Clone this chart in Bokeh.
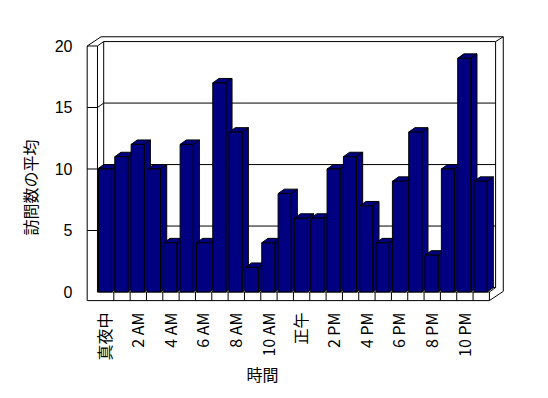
import math
from bokeh.plotting import figure
from bokeh.models import Range1d, FixedTicker, LinearAxis, Title
from bokeh.embed import file_html
from bokeh.resources import INLINE

# ---- data -------------------------------------------------------------
categories = ["真夜中", "1 AM", "2 AM", "3 AM", "4 AM", "5 AM", "6 AM", "7 AM",
              "8 AM", "9 AM", "10 AM", "11 AM", "正午", "1 PM", "2 PM", "3 PM",
              "4 PM", "5 PM", "6 PM", "7 PM", "8 PM", "9 PM", "10 PM", "11 PM"]
visits = [10, 11, 12, 10, 4, 12, 4, 17, 13, 2, 4, 8,
          6, 6, 10, 11, 7, 4, 9, 13, 3, 10, 19, 9]
y_ticks = [0, 5, 10, 15, 20]
x_title = "時間"
y_title = "訪問数の平均"

# ---- geometry (data units) -------------------------------------------
n = len(categories)
y_max = y_ticks[-1]
bar_l, bar_r = 0.06, 0.86      # bar front face within its slot
dep_x, dep_y = 0.38, 0.36      # depth of bars / inner walls
out_x, out_y = 0.85, 0.75      # outer wall depth
wall_w = 0.63                  # left wall thickness
floor_t = 0.70                 # floor thickness

NAVY = "#000080"
FONT = "Liberation Sans"
JFONT = "Noto Sans CJK JP"

x_start, x_end = -1.04, 25.17
y_start, y_end = -1.18, 21.26

p = figure(width=540, height=394, output_backend="svg", toolbar_location=None,
           x_range=Range1d(x_start, x_end), y_range=Range1d(y_start, y_end),
           x_axis_type=None, y_axis_type=None,
           min_border_left=80, min_border_right=32,
           min_border_top=30, min_border_bottom=88)
p.grid.visible = False
p.outline_line_color = None
p.background_fill_color = "white"
p.border_fill_color = "white"

# ---- walls and floor (frame drawing) ----------------------------------
w, ft = wall_w, floor_t
segs_x, segs_y = [], []
def seg(pts):
    segs_x.append([q[0] for q in pts])
    segs_y.append([q[1] for q in pts])

# left wall front face + floor front face
seg([(-w, -ft), (-w, y_max), (0, y_max), (0, 0)])
seg([(-w, -ft), (n, -ft), (n, 0)])
seg([(0, 0), (n, 0)])
# outer top edges
seg([(-w, y_max), (-w + out_x, y_max + out_y), (n + out_x, y_max + out_y),
     (n + out_x, -ft + out_y), (n, -ft)])
# inner wall
seg([(0, y_max), (dep_x, y_max + dep_y), (n + dep_x, y_max + dep_y),
     (n + out_x, y_max + out_y)])
seg([(dep_x, y_max + dep_y), (dep_x, dep_y), (n + dep_x, dep_y),
     (n + dep_x, y_max + dep_y)])
seg([(0, 0), (dep_x, dep_y)])
seg([(n, 0), (n + dep_x, dep_y)])
# gridlines (front tick, side diagonal, back wall line)
for L in y_ticks[1:-1]:
    seg([(-w, L), (0, L), (dep_x, L + dep_y), (n + dep_x, L + dep_y)])
# floor front dividers
for i in range(1, n):
    seg([(i, -ft), (i, 0)])

p.multi_line(xs=segs_x, ys=segs_y, line_color="black", line_width=1)

# ---- bars --------------------------------------------------------------
side_xs, side_ys, top_xs, top_ys = [], [], [], []
for i, v in enumerate(visits):
    l, r = i + bar_l, i + bar_r
    side_xs.append([r, r + dep_x, r + dep_x, r])
    side_ys.append([0, dep_y, v + dep_y, v])
    top_xs.append([l, r, r + dep_x, l + dep_x])
    top_ys.append([v, v, v + dep_y, v + dep_y])

p.patches(xs=side_xs, ys=side_ys, fill_color=NAVY, line_color="black", line_width=1)
p.patches(xs=top_xs, ys=top_ys, fill_color=NAVY, line_color="black", line_width=1)
p.quad(left=[i + bar_l for i in range(n)], right=[i + bar_r for i in range(n)],
       bottom=0, top=visits, fill_color=NAVY, line_color="black", line_width=1)

# ---- axes ---------------------------------------------------------------
yax = LinearAxis(ticker=FixedTicker(ticks=y_ticks))
yax.axis_line_color = None
yax.major_tick_line_color = None
yax.minor_tick_line_color = None
yax.major_tick_out = 0
yax.major_tick_in = 0
yax.major_label_standoff = 8
yax.major_label_text_font = FONT
yax.major_label_text_font_size = "16px"
yax.major_label_text_color = "black"
p.add_layout(yax, "left")

label_shift = 0.42
p.extra_x_ranges = {"labels": Range1d(x_start - label_shift, x_end - label_shift)}
shown = list(range(0, n, 2))
xax = LinearAxis(x_range_name="labels", ticker=FixedTicker(ticks=shown),
                 major_label_overrides={i: categories[i] for i in shown},
                 major_label_orientation=math.pi / 2)
xax.axis_line_color = None
xax.major_tick_line_color = None
xax.minor_tick_line_color = None
xax.major_tick_out = 0
xax.major_tick_in = 0
xax.major_label_standoff = 6
xax.major_label_text_font = JFONT
xax.major_label_text_font_size = "16px"
xax.major_label_text_color = "black"
p.add_layout(xax, "below")

p.add_layout(Title(text=x_title, align="left", offset=166, text_font=JFONT,
                   text_font_size="16px", text_font_style="normal",
                   text_color="black", standoff=-8), "below")
p.add_layout(Title(text=y_title, align="left", offset=71, text_font=JFONT,
                   text_font_size="16px", text_font_style="normal",
                   text_color="black", standoff=19), "left")

open("out.html", "w").write(file_html(p, INLINE))
